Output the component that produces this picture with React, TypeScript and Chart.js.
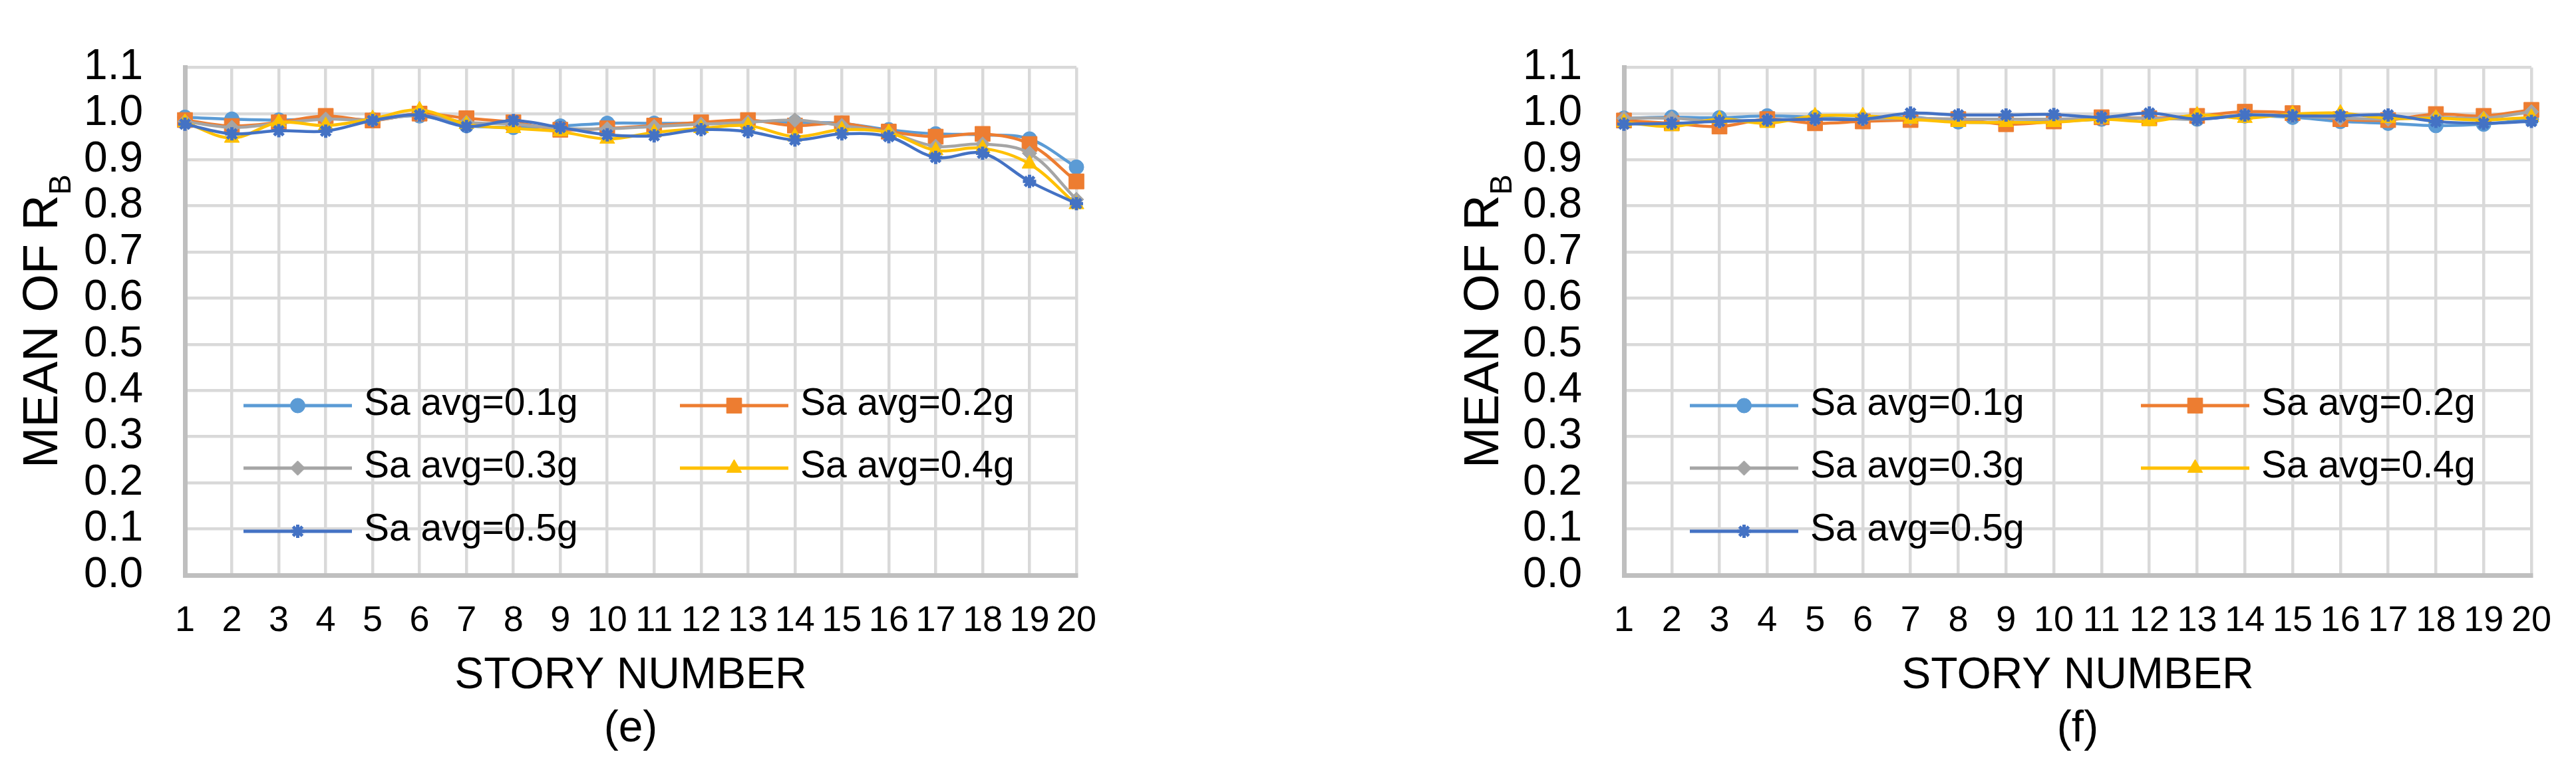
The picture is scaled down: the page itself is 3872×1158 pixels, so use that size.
import React, { useEffect, useRef } from 'react';
import { Chart, registerables } from 'chart.js';

Chart.register(...registerables);

const FONT = '"Liberation Sans", Arial, Helvetica, sans-serif';

// ---------- data ----------
const stories = ['1', '2', '3', '4', '5', '6', '7', '8', '9', '10', '11', '12', '13', '14', '15', '16', '17', '18', '19', '20'];
const seriesLabels = ['Sa avg=0.1g', 'Sa avg=0.2g', 'Sa avg=0.3g', 'Sa avg=0.4g', 'Sa avg=0.5g'];
const yMin = 0;
const yMax = 1.1;
const yStep = 0.1;

// panel (e)
const eSa01 = [0.992, 0.988, 0.986, 0.989, 0.987, 0.995, 0.974, 0.970, 0.973, 0.979, 0.979, 0.979, 0.983, 0.981, 0.979, 0.965, 0.956, 0.954, 0.945, 0.884];
const eSa02 = [0.986, 0.973, 0.981, 0.995, 0.985, 1.000, 0.990, 0.981, 0.965, 0.968, 0.974, 0.981, 0.986, 0.974, 0.979, 0.961, 0.950, 0.956, 0.934, 0.853];
const eSa03 = [0.983, 0.970, 0.979, 0.988, 0.986, 0.997, 0.981, 0.977, 0.968, 0.967, 0.972, 0.977, 0.981, 0.986, 0.974, 0.959, 0.929, 0.934, 0.914, 0.814];
const eSa04 = [0.981, 0.947, 0.981, 0.974, 0.989, 1.008, 0.977, 0.968, 0.961, 0.945, 0.959, 0.968, 0.974, 0.950, 0.965, 0.959, 0.920, 0.925, 0.891, 0.803];
const eSa05 = [0.977, 0.956, 0.963, 0.962, 0.985, 0.997, 0.972, 0.985, 0.970, 0.954, 0.952, 0.965, 0.961, 0.943, 0.956, 0.950, 0.905, 0.914, 0.853, 0.805];

// panel (f)
const fSa01 = [0.990, 0.992, 0.991, 0.995, 0.992, 0.988, 0.992, 0.982, 0.981, 0.983, 0.988, 0.990, 0.988, 0.995, 0.992, 0.983, 0.979, 0.974, 0.977, 0.988];
const fSa02 = [0.985, 0.979, 0.972, 0.988, 0.979, 0.983, 0.986, 0.988, 0.977, 0.983, 0.992, 0.990, 0.995, 1.004, 1.001, 0.988, 0.986, 0.999, 0.995, 1.008];
const fSa03 = [0.990, 0.990, 0.983, 0.986, 0.988, 0.988, 0.990, 0.988, 0.988, 0.988, 0.990, 0.990, 0.988, 0.997, 0.995, 0.990, 0.988, 0.992, 0.990, 1.004];
const fSa04 = [0.981, 0.972, 0.988, 0.979, 0.995, 0.995, 0.988, 0.981, 0.981, 0.981, 0.988, 0.983, 0.997, 0.990, 0.999, 1.001, 0.990, 0.990, 0.986, 0.992];
const fSa05 = [0.977, 0.979, 0.983, 0.986, 0.988, 0.988, 1.001, 0.997, 0.997, 0.998, 0.992, 1.001, 0.988, 0.997, 0.995, 0.995, 0.997, 0.983, 0.979, 0.983];

// ---------- styles ----------
const COLORS = ['#5B9BD5', '#ED7D31', '#A5A5A5', '#FFC000', '#4472C4'];
const POINT_STYLES = ['circle', 'rect', 'rectRot', 'triangle', 'star'];
const POINT_RADII = [11, 16, 11, 13, 10];
const POINT_BORDERS = [1, 1, 1, 1, 5];

function drawMarker(ctx: CanvasRenderingContext2D, style: string, x: number, y: number, r: number, color: string, bw: number) {
  ctx.save();
  ctx.fillStyle = color;
  ctx.strokeStyle = color;
  ctx.lineWidth = bw;
  ctx.beginPath();
  if (style === 'circle') {
    ctx.arc(x, y, r, 0, Math.PI * 2);
    ctx.closePath();
    ctx.fill();
    ctx.stroke();
  } else if (style === 'rect') {
    const s = r * Math.SQRT1_2;
    ctx.rect(x - s, y - s, 2 * s, 2 * s);
    ctx.fill();
    ctx.stroke();
  } else if (style === 'rectRot') {
    ctx.moveTo(x - r, y);
    ctx.lineTo(x, y - r);
    ctx.lineTo(x + r, y);
    ctx.lineTo(x, y + r);
    ctx.closePath();
    ctx.fill();
    ctx.stroke();
  } else if (style === 'triangle') {
    const a = (2 * Math.PI) / 3;
    ctx.moveTo(x, y - r);
    ctx.lineTo(x + Math.sin(a) * r, y - Math.cos(a) * r);
    ctx.lineTo(x + Math.sin(2 * a) * r, y - Math.cos(2 * a) * r);
    ctx.closePath();
    ctx.fill();
    ctx.stroke();
  } else {
    ctx.moveTo(x, y - r);
    ctx.lineTo(x, y + r);
    ctx.moveTo(x - r, y);
    ctx.lineTo(x + r, y);
    const d = r * Math.SQRT1_2;
    ctx.moveTo(x - d, y - d);
    ctx.lineTo(x + d, y + d);
    ctx.moveTo(x - d, y + d);
    ctx.lineTo(x + d, y - d);
    ctx.stroke();
  }
  ctx.restore();
}

const decorPlugin = {
  id: 'decor',
  afterDraw(chart: any, _args: any, opts: any) {
    const ctx: CanvasRenderingContext2D = chart.ctx;
    const area = chart.chartArea;
    // y-axis title with subscript
    ctx.save();
    ctx.fillStyle = '#000';
    ctx.textBaseline = 'alphabetic';
    ctx.textAlign = 'left';
    ctx.font = `74px ${FONT}`;
    const mainW = ctx.measureText(opts.yTitle).width;
    ctx.font = `46px ${FONT}`;
    const subW = ctx.measureText(opts.yTitleSub).width;
    const total = mainW + subW;
    const cy = (area.top + area.bottom) / 2;
    ctx.translate(opts.titleX, cy + total / 2);
    ctx.rotate(-Math.PI / 2);
    ctx.font = `74px ${FONT}`;
    ctx.fillText(opts.yTitle, 0, 0);
    ctx.font = `46px ${FONT}`;
    ctx.fillText(opts.yTitleSub, mainW, 20);
    ctx.restore();

    // legend
    chart.data.datasets.forEach((ds: any, i: number) => {
      const col = i % 2;
      const row = Math.floor(i / 2);
      const x0 = opts.legendX[col];
      const y0 = opts.legendY[row];
      const len = opts.legendLine;
      ctx.save();
      ctx.strokeStyle = ds.borderColor;
      ctx.lineWidth = 5;
      ctx.beginPath();
      ctx.moveTo(x0, y0);
      ctx.lineTo(x0 + len, y0);
      ctx.stroke();
      ctx.restore();
      drawMarker(ctx, ds.pointStyle, x0 + len / 2, y0, ds.pointRadius, ds.borderColor, ds.pointBorderWidth);
      ctx.save();
      ctx.fillStyle = '#000';
      ctx.font = `57px ${FONT}`;
      ctx.textBaseline = 'middle';
      ctx.textAlign = 'left';
      ctx.fillText(ds.label, x0 + len + 18, y0 - 2);
      ctx.restore();
    });
  },
};

type PanelProps = {
  series: number[][];
  caption: string;
  left: number;
  yAxisWidth: number;
  padRight: number;
  titleX: number;
  legendX: number[];
};

function Panel({ series, caption, left, yAxisWidth, padRight, titleX, legendX }: PanelProps) {
  const ref = useRef<HTMLCanvasElement>(null);
  useEffect(() => {
    if (!ref.current) return;
    const datasets = series.map((data, i) => ({
      label: seriesLabels[i],
      data,
      borderColor: COLORS[i],
      backgroundColor: COLORS[i],
      pointBackgroundColor: COLORS[i],
      pointBorderColor: COLORS[i],
      pointStyle: POINT_STYLES[i],
      pointRadius: POINT_RADII[i],
      pointHoverRadius: POINT_RADII[i],
      pointBorderWidth: POINT_BORDERS[i],
      borderWidth: 4.5,
      tension: 0.35,
      fill: false,
      clip: false,
      order: series.length - i,
    }));
    const chart = new Chart(ref.current, {
      type: 'line',
      data: { labels: stories, datasets },
      options: {
        animation: false,
        responsive: false,
        maintainAspectRatio: false,
        events: [],
        layout: { padding: { left: 0, top: 49, right: padRight, bottom: 0 } },
        plugins: {
          legend: { display: false },
          tooltip: { enabled: false },
          decor: {
            yTitle: 'MEAN OF R',
            yTitleSub: 'B',
            titleX,
            legendX,
            legendY: [610, 704, 799],
            legendLine: 163,
          },
        } as any,
        scales: {
          x: {
            type: 'category',
            offset: false,
            afterFit: (scale: any) => {
              scale.height = 293;
            },
            grid: { color: '#D9D9D9', lineWidth: 4.5, drawTicks: false, offset: false },
            border: { color: '#BFBFBF', width: 7 },
            ticks: {
              color: '#000',
              font: { family: FONT, size: 54 },
              padding: 37,
              autoSkip: false,
              maxRotation: 0,
              minRotation: 0,
            },
            title: {
              display: true,
              text: ['STORY NUMBER', caption],
              color: '#000',
              font: { family: FONT, size: 66, lineHeight: 1.2 },
              padding: { top: 0, bottom: 22 },
            },
          },
          y: {
            min: yMin,
            max: yMax,
            afterFit: (scale: any) => {
              scale.width = yAxisWidth;
            },
            grid: { color: '#D9D9D9', lineWidth: 4.5, drawTicks: false },
            border: { color: '#BFBFBF', width: 7 },
            ticks: {
              stepSize: yStep,
              color: '#000',
              font: { family: FONT, size: 64 },
              padding: 63,
              autoSkip: false,
              callback: (v: any) => Number(v).toFixed(1),
            },
          },
        },
      } as any,
      plugins: [decorPlugin as any],
    });
    return () => chart.destroy();
  }, []);
  return (
    <canvas
      ref={ref}
      width={1936}
      height={1158}
      style={{ position: 'absolute', left, top: 0, width: 1936, height: 1158, display: 'block' }}
    />
  );
}

export default function App() {
  return (
    <div style={{ position: 'absolute', left: 0, top: 0, width: 3872, height: 1158, background: '#ffffff', overflow: 'hidden' }}>
      <Panel
        series={[eSa01, eSa02, eSa03, eSa04, eSa05]}
        caption="(e)"
        left={0}
        yAxisWidth={278}
        padRight={318}
        titleX={86}
        legendX={[366, 1022]}
      />
      <Panel
        series={[fSa01, fSa02, fSa03, fSa04, fSa05]}
        caption="(f)"
        left={1936}
        yAxisWidth={505}
        padRight={48}
        titleX={316}
        legendX={[604, 1282]}
      />
    </div>
  );
}
